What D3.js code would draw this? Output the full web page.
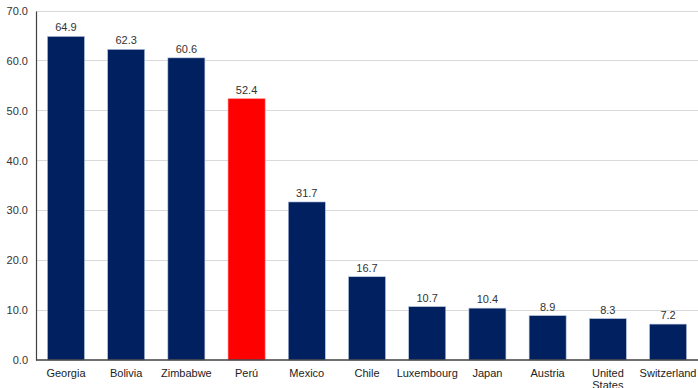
<!DOCTYPE html>
<html><head><meta charset="utf-8">
<script src="https://cdn.jsdelivr.net/npm/d3@7"></script>
<style>body{margin:0;background:#fff}svg{display:block}text{font-family:"Liberation Sans",Arial,sans-serif}</style>
</head><body><svg id="c" width="698" height="388"></svg>
<script>
const categories = ["Georgia","Bolivia","Zimbabwe","Perú","Mexico","Chile","Luxembourg","Japan","Austria","United States","Switzerland"];
const values = [64.9,62.3,60.6,52.4,31.7,16.7,10.7,10.4,8.9,8.3,7.2];
const highlight = ["Perú"];
const yTicks = [0,10,20,30,40,50,60,70];

const svg = d3.select("#c");
const m = {l:36, r:0, t:11, b:28};
const W = 698, H = 388;
const x = d3.scaleBand().domain(categories).range([m.l, W - m.r]).paddingInner(0.385).paddingOuter(0.19);
const y = d3.scaleLinear().domain([0,70]).range([H - m.b, m.t]);

// gridlines
svg.append("g").selectAll("line").data(yTicks.filter(d=>d>0)).join("line")
  .attr("x1", m.l).attr("x2", W).attr("y1", d=>y(d)).attr("y2", d=>y(d))
  .attr("stroke", "#d9d9d9").attr("stroke-width", 1).attr("shape-rendering","crispEdges");

// bars
svg.append("g").selectAll("rect").data(categories).join("rect")
  .attr("x", d=>x(d)).attr("width", x.bandwidth())
  .attr("y", (d,i)=>y(values[i])).attr("height", (d,i)=>y(0)-y(values[i]))
  .attr("fill", d=>highlight.includes(d) ? "#ff0000" : "#002060")
  .attr("stroke", d=>highlight.includes(d) ? "#ff8080" : "#b8c4dc").attr("stroke-width", 0.6);

// value labels
svg.append("g").selectAll("text").data(categories).join("text")
  .attr("x", d=>x(d)+x.bandwidth()/2).attr("y", (d,i)=>y(values[i]) - 5)
  .attr("text-anchor","middle").attr("font-size", 11).attr("fill","#333")
  .text((d,i)=>values[i].toFixed(1));

// y axis
const ya = d3.axisLeft(y).tickValues(yTicks).tickFormat(d3.format(".1f")).tickSize(0).tickPadding(8);
const gy = svg.append("g").attr("transform",`translate(${m.l},0)`).call(ya);
gy.select(".domain").attr("stroke","#404040").attr("stroke-width",1.2);
gy.selectAll("text").attr("font-size",11).attr("fill","#333").attr("font-family","Liberation Sans, Arial, sans-serif");

// x axis
const xa = d3.axisBottom(x).tickSize(0).tickPadding(9);
const gx = svg.append("g").attr("transform",`translate(0,${y(0)})`).call(xa);
gx.select(".domain").attr("d", `M${m.l},0H${W}`).attr("stroke","#404040").attr("stroke-width",1.5);
gx.selectAll("text").attr("font-size",11).attr("fill","#222").attr("font-family","Liberation Sans, Arial, sans-serif")
  .each(function(d){
    const t = d3.select(this);
    const words = d.split(" ");
    if (words.length > 1) {
      t.text(null);
      words.forEach((w,i)=>t.append("tspan").attr("x",0).attr("dy", i===0 ? "0.71em" : "1.1em").text(w));
      t.attr("dy", null);
    }
  });
</script></body></html>
